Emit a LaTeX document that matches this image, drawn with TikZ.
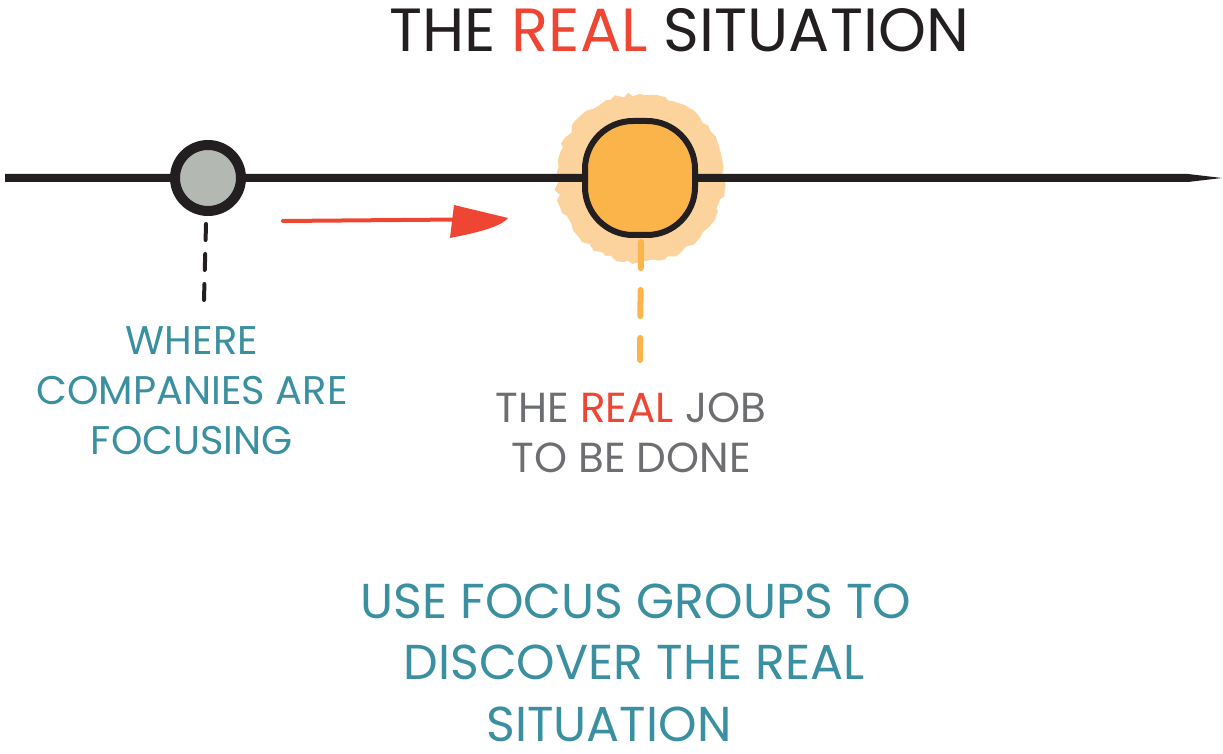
\documentclass[tikz,border=0pt]{standalone}
\usepackage{fontspec}
\setmainfont{Poppins}
\usetikzlibrary{decorations.pathmorphing}
\definecolor{ink}{HTML}{231F20}
\definecolor{hotred}{HTML}{EF4634}
\definecolor{teal}{HTML}{3A8FA0}
\definecolor{slate}{HTML}{6D6E71}
\definecolor{amber}{HTML}{FBB44A}
\definecolor{glow}{HTML}{FCD39C}
\definecolor{pebble}{HTML}{B3B8B3}
\tikzset{
  label/.style={inner sep=0pt, anchor=base},
  titletext/.style={label, text=ink, font=\fontsize{30.5pt}{34pt}\selectfont},
  notetext/.style={label, text=teal, font=\fontsize{20pt}{25pt}\selectfont},
  jobtext/.style={label, text=slate, font=\fontsize{21pt}{25pt}\selectfont},
  calltext/.style={label, text=teal, font=\fontsize{24.5pt}{31pt}\selectfont},
  marker/.style={draw=ink, line width=4pt, inner sep=0pt},
  leader/.style={line width=2pt, dash pattern=on 8pt off 7pt, line cap=round},
}
\begin{document}
\begin{tikzpicture}[x=0.5pt,y=-0.5pt]
\useasboundingbox (0,0) rectangle (1223,754);

% title
\node[titletext] (title) at (679,52) {THE \textcolor{hotred}{REAL} SITUATION};

% halo behind the real job
\fill[glow, decorate, decoration={random steps, segment length=3pt, amplitude=1.2pt}]
  (640,178) circle (42pt);

% time line with a tapered end
\fill[ink] (5,174) -- (1188,174) -- (1222,178) -- (1188,182) -- (5,182) -- cycle;

% where companies look
\node[marker, line width=5pt, circle, fill=pebble, minimum size=33pt] (focus) at (208,178) {};
% where the job really is
\node[marker, line width=3pt, rectangle, rounded corners=24pt, fill=amber,
      minimum width=55pt, minimum height=57pt] (job) at (640,178) {};

% red arrow between them
\coordinate (a1) at (283,221);
\coordinate (a2) at (508,218);
\draw[hotred, line width=2pt, line cap=round] (a1) -- (460,219.5);
\fill[hotred] (454,205) -- (a2) .. controls (500,228) and (470,234) .. (450,238) -- cycle;

% leaders down to the captions
\coordinate (f1) at (206,224);
\coordinate (f2) at (204,300);
\draw[ink, leader] (f1) -- (f2);
\coordinate (j1) at (641,242);
\coordinate (j2) at (640,360);
\draw[amber, leader, line width=3pt, dash pattern=on 13pt off 11pt] (j1) -- (j2);

% captions
\node[notetext] (note1) at (192,355) {WHERE};
\node[notetext] (note2) at (192,405) {COMPANIES ARE};
\node[notetext] (note3) at (192,455) {FOCUSING};
\node[jobtext] (jobcap1) at (631,423) {THE \textcolor{hotred}{REAL} JOB};
\node[jobtext] (jobcap2) at (631,473) {TO BE DONE};
\node[calltext] (call1) at (636,618) {USE FOCUS GROUPS TO};
\node[calltext] (call2) at (634,680) {DISCOVER THE REAL};
\node[calltext] (call3) at (609,741) {SITUATION};
\end{tikzpicture}
\end{document}
